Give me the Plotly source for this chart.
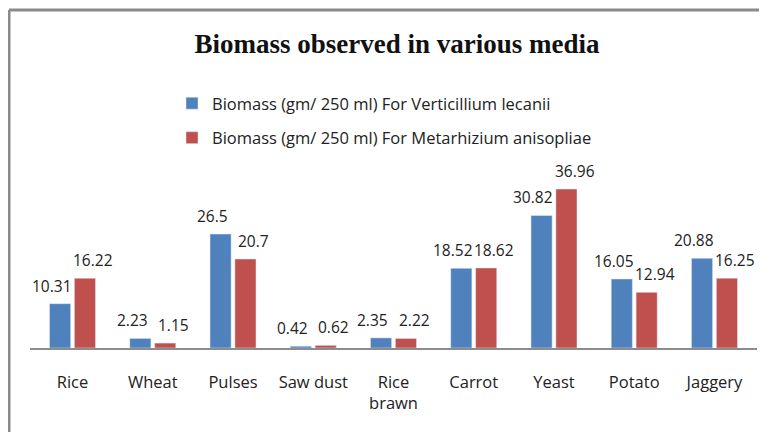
import plotly.graph_objects as go

categories = ["Rice", "Wheat", "Pulses", "Saw dust", "Rice<br>brawn", "Carrot", "Yeast", "Potato", "Jaggery"]
verticillium = [10.31, 2.23, 26.5, 0.42, 2.35, 18.52, 30.82, 16.05, 20.88]
metarhizium = [16.22, 1.15, 20.7, 0.62, 2.22, 18.62, 36.96, 12.94, 16.25]
series_names = ["Biomass (gm/ 250 ml) For Verticillium lecanii",
                "Biomass (gm/ 250 ml) For Metarhizium anisopliae"]
colors = ["#4F81BD", "#C0504D"]

FAM = "Open Sans, Liberation Sans, sans-serif"
lab_font = dict(family=FAM, size=15.5, color="#222")
tick_font = dict(family=FAM, size=16.5, color="#222")
leg_font = dict(family=FAM, size=16.5, color="#222")

# page body has an 8px margin: figure coordinates = reference coordinates - 8
OFF = 8
W, H = 767 - OFF, 432 - OFF
L, R, T, B = 30 - OFF, 10, 170 - OFF, 84
pw, ph = W - L - R, H - T - B

BARGAP = 0.38
GROUPGAP = 0.15

def px(x):
    return (x - OFF - L) / pw

def py(y):
    return (H - B - (y - OFF)) / ph

fig = go.Figure()
series = [verticillium, metarhizium]
for i, vals in enumerate(series):
    fig.add_trace(go.Bar(x=categories, y=vals, name=series_names[i], legendgroup=str(i),
                         marker_color=colors[i], cliponaxis=False))

# data labels as annotations, nudged apart like the reference
slot = pw / len(categories) * (1 - BARGAP) / 2
annotations = []
for i, vals in enumerate(series):
    sign = -1 if i == 0 else 1
    for c, v in zip(categories, vals):
        annotations.append(dict(x=c, y=v, text=str(v), showarrow=False,
                                xanchor="center", yanchor="bottom",
                                xshift=sign * (slot / 2 + 8), yshift=5,
                                font=lab_font))

fig.update_layout(
    width=W, height=H,
    margin=dict(l=L, r=R, t=T, b=B),
    paper_bgcolor="white", plot_bgcolor="white",
    barmode="group", bargap=BARGAP, bargroupgap=GROUPGAP,
    title=dict(text="<b>Biomass observed in various media</b>",
               font=dict(family="Liberation Serif, Times New Roman, serif", size=27, color="#111"),
               x=(397 - OFF) / W, xanchor="center", xref="container",
               y=1 - (44 - OFF) / H, yanchor="middle", yref="container"),
    legend=dict(x=px(172), y=py(86), xanchor="left", yanchor="top",
                orientation="v", font=leg_font, itemwidth=30,
                tracegroupgap=10, bgcolor="rgba(0,0,0,0)"),
    showlegend=True,
    annotations=annotations,
    xaxis=dict(showline=True, linecolor="#8c8c8c", linewidth=2,
               ticks="outside", ticklen=18, tickcolor="rgba(0,0,0,0)",
               tickfont=tick_font, showgrid=False, zeroline=False),
    yaxis=dict(range=[0, 41.4], visible=False, showgrid=False, zeroline=False),
    shapes=[
        dict(type="line", xref="paper", yref="paper", x0=px(9), x1=px(790), y0=py(10), y1=py(10),
             line=dict(color="#8a8a8a", width=3)),
        dict(type="line", xref="paper", yref="paper", x0=px(9), x1=px(9), y0=py(10), y1=py(460),
             line=dict(color="#8a8a8a", width=3)),
    ],
)

fig.write_html("out.html")
